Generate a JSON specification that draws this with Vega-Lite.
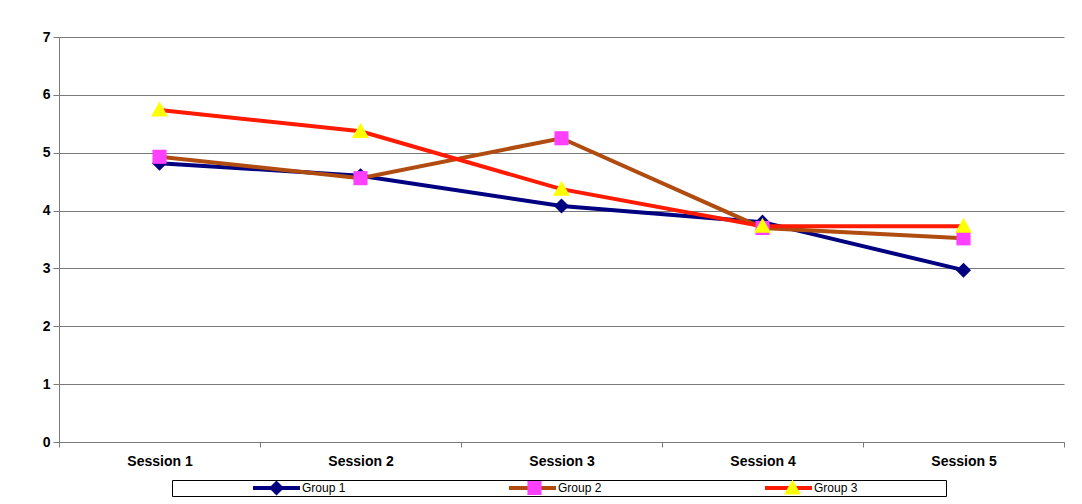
{
  "$schema": "https://vega.github.io/schema/vega-lite/v6.json",
  "width": 1005,
  "height": 405,
  "autosize": "none",
  "padding": {"left": 59, "top": 37, "right": 18, "bottom": 62},
  "background": "white",
  "config": {"view": {"stroke": null}, "font": "Liberation Sans"},
  "data": {
    "values": [
      {"session": "Session 1", "group": "Group 1", "value": 4.82},
      {"session": "Session 2", "group": "Group 1", "value": 4.60},
      {"session": "Session 3", "group": "Group 1", "value": 4.08},
      {"session": "Session 4", "group": "Group 1", "value": 3.80},
      {"session": "Session 5", "group": "Group 1", "value": 2.97},
      {"session": "Session 1", "group": "Group 2", "value": 4.93},
      {"session": "Session 2", "group": "Group 2", "value": 4.56},
      {"session": "Session 3", "group": "Group 2", "value": 5.25},
      {"session": "Session 4", "group": "Group 2", "value": 3.70},
      {"session": "Session 5", "group": "Group 2", "value": 3.52},
      {"session": "Session 1", "group": "Group 3", "value": 5.74},
      {"session": "Session 2", "group": "Group 3", "value": 5.37},
      {"session": "Session 3", "group": "Group 3", "value": 4.37},
      {"session": "Session 4", "group": "Group 3", "value": 3.73},
      {"session": "Session 5", "group": "Group 3", "value": 3.73}
    ]
  },
  "encoding": {
    "x": {
      "field": "session", "type": "nominal", "sort": null,
      "scale": {"type": "band", "paddingInner": 0, "paddingOuter": 0},
      "axis": {"title": null, "labelAngle": 0, "tickBand": "extent", "domainColor": "#7a7a7a", "tickColor": "#7a7a7a", "tickSize": 5, "labelFont": "Liberation Sans", "labelFontWeight": "bold", "labelFontSize": 14, "labelColor": "black", "labelPadding": 7, "grid": false}
    },
    "y": {
      "field": "value", "type": "quantitative",
      "scale": {"domain": [0, 7], "nice": false},
      "axis": {"title": null, "values": [0, 1, 2, 3, 4, 5, 6, 7], "format": "d", "grid": true, "gridColor": "#7a7a7a", "gridWidth": 1.2, "gridOpacity": 1, "domainColor": "#7a7a7a", "tickColor": "#7a7a7a", "tickSize": 6, "labelPadding": 3, "labelFont": "Liberation Sans", "labelFontWeight": "bold", "labelFontSize": 14, "labelColor": "black"}
    }
  },
  "layer": [
    {
      "mark": {"type": "line", "strokeWidth": 4},
      "encoding": {
        "stroke": {
          "field": "group", "type": "nominal",
          "scale": {"domain": ["Group 1", "Group 2", "Group 3"], "range": ["#000080", "#B04C10", "#FF1A00"]},
          "legend": {"orient": "none", "legendX": 113, "legendY": 443, "direction": "horizontal", "title": null, "symbolType": "stroke", "symbolSize": 2209, "symbolStrokeWidth": 4, "clipHeight": 16, "padding": 0, "symbolOffset": 79, "labelOffset": 0, "columnPadding": 82, "labelFont": "Liberation Sans", "labelFontSize": 12, "labelColor": "black", "labelLimit": 300}
        }
      }
    },
    {
      "mark": {"type": "point", "filled": true, "size": 2209, "opacity": 1, "strokeWidth": 0},
      "encoding": {
        "fill": {
          "field": "group", "type": "nominal",
          "scale": {"range": ["#000080", "#FF40FF", "#FFFF00"]},
          "legend": {"orient": "none", "legendX": 113, "legendY": 443, "direction": "horizontal", "title": null, "symbolSize": 2209, "symbolStrokeWidth": 4, "symbolStrokeColor": "transparent", "clipHeight": 16, "padding": 0, "strokeColor": "black", "symbolOffset": 79, "labelOffset": 84, "columnPadding": -2, "labelFont": "Liberation Sans", "labelFontSize": 12, "labelColor": "black", "labelOpacity": 0, "labelLimit": 300, "zindex": 1}
        },
        "shape": {
          "field": "group", "type": "nominal",
          "scale": {"range": ["M0,-0.32L0.32,0L0,0.32L-0.32,0Z", "M-0.3,-0.3H0.3V0.3H-0.3Z", "M0,-0.36L0.36,0.28L-0.36,0.28Z"]},
          "legend": {"orient": "none", "legendX": 113, "legendY": 443, "direction": "horizontal", "title": null, "symbolSize": 2209, "symbolStrokeWidth": 4, "symbolStrokeColor": "transparent", "clipHeight": 16, "padding": 0, "strokeColor": "black", "symbolOffset": 79, "labelOffset": 84, "columnPadding": -2, "labelFont": "Liberation Sans", "labelFontSize": 12, "labelColor": "black", "labelOpacity": 0, "labelLimit": 300, "zindex": 1}
        }
      }
    }
  ]
}
